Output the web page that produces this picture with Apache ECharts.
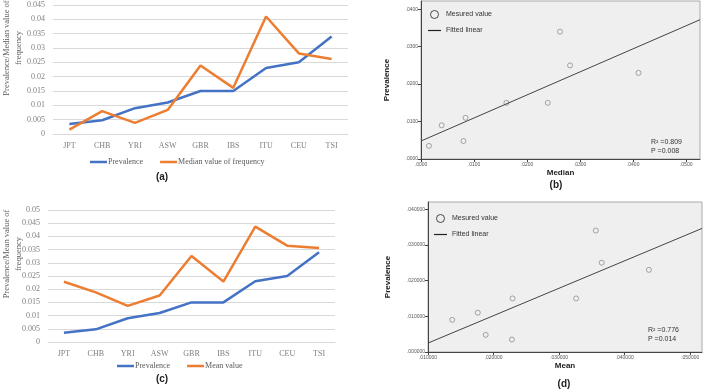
<!DOCTYPE html>
<html>
<head>
<meta charset="utf-8">
<script src="https://cdn.jsdelivr.net/npm/echarts@6/dist/echarts.min.js"></script>
<style>
  html, body { margin: 0; padding: 0; background: #fff; }
  #chart { width: 703px; height: 390px; }
</style>
</head>
<body>
<div id="chart"></div>
<script>
// populations and values
const categories = ['JPT', 'CHB', 'YRI', 'ASW', 'GBR', 'IBS', 'ITU', 'CEU', 'TSI']
const prevalence = [0.0035, 0.0048, 0.009, 0.011, 0.015, 0.015, 0.023, 0.025, 0.034]
const medianFreq = [0.0015, 0.008, 0.0039, 0.0084, 0.0239, 0.0161, 0.041, 0.0281, 0.0262]
const meanFreq = [0.0228, 0.0188, 0.0137, 0.0176, 0.0326, 0.0229, 0.0437, 0.0365, 0.0356]

// fitted line end points as drawn in (b) and (d)
const fitMedian = [[0, 0.0048], [0.0526, 0.0372]]
const fitMean = [[0.01, 0.0025], [0.0518, 0.0346]]

const statsMedian = ['R² =0.809', 'P =0.008']
const statsMean = ['R² =0.776', 'P =0.014']

const BLUE = '#4472C4'
const ORANGE = '#ED7D31'
const PLOT_BG = '#efefef'
const serif = '"Liberation Serif", "DejaVu Serif", serif'
const sans = '"Liberation Sans", Arial, sans-serif'
const BAR_ICON = 'path://M0,0H17V2.5H0Z'
const THIN_ICON = 'path://M0,0H13V1.2H0Z'

const chart = echarts.init(document.getElementById('chart'), null, { renderer: 'canvas' })

const lineYAxis = (gridIndex, max) => ({
    type: 'value',
    gridIndex,
    min: 0,
    max,
    interval: 0.005,
    axisLine: { show: false },
    axisTick: { show: false },
    splitLine: { lineStyle: { color: '#d9d9d9', width: 1 } },
    axisLabel: {
        color: '#808080',
        fontFamily: serif,
        fontSize: 8,
        margin: 8,
        formatter: v => String(+v.toFixed(3)),
    },
})

const lineXAxis = (gridIndex) => ({
    type: 'category',
    gridIndex,
    data: categories,
    axisLine: { lineStyle: { color: '#d9d9d9' } },
    axisTick: { show: false },
    axisLabel: { color: '#808080', fontFamily: serif, fontSize: 8, margin: 8 },
})

const scatterAxisLabel = (digits) => ({
    color: '#555',
    fontFamily: sans,
    fontSize: 5,
    margin: 3,
    showMaxLabel: false,
    formatter: v => v.toFixed(digits).replace(/^0/, ''),
})

const scatterXAxis = (gridIndex, min, max, name, digits) => ({
    type: 'value',
    gridIndex,
    min,
    max,
    interval: 0.01,
    name,
    nameLocation: 'middle',
    nameGap: 10,
    nameTextStyle: { fontFamily: sans, fontSize: 8, fontWeight: 'bold', color: '#222' },
    axisLine: { lineStyle: { color: '#444', width: 1 } },
    axisTick: { length: 3, lineStyle: { color: '#444' } },
    splitLine: { show: false },
    axisLabel: scatterAxisLabel(digits),
})

const scatterYAxis = (gridIndex, max, digits, gap) => ({
    type: 'value',
    gridIndex,
    min: 0,
    max,
    interval: 0.01,
    name: 'Prevalence',
    nameLocation: 'middle',
    nameRotate: 90,
    nameGap: gap,
    nameTextStyle: { fontFamily: sans, fontSize: 8, fontWeight: 'bold', color: '#222' },
    axisLine: { lineStyle: { color: '#444', width: 1 } },
    axisTick: { length: 3, lineStyle: { color: '#444' } },
    splitLine: { show: false },
    axisLabel: scatterAxisLabel(digits),
})

const lineSeries = (name, data, idx, color) => ({
    type: 'line',
    name,
    xAxisIndex: idx,
    yAxisIndex: idx,
    data,
    symbol: 'none',
    lineStyle: { color, width: 2.5 },
    itemStyle: { color },
})

// hollow markers: filled with the plot background, thin grey ring
const scatterSeries = (xs, idx) => ({
    type: 'scatter',
    name: 'Mesured value',
    xAxisIndex: idx,
    yAxisIndex: idx,
    symbol: 'circle',
    symbolSize: 5,
    itemStyle: { color: PLOT_BG, borderColor: '#666', borderWidth: 0.7 },
    data: xs.map((x, i) => [x, prevalence[i]]),
})

const fitSeries = (data, idx) => ({
    type: 'line',
    name: 'Fitted linear',
    xAxisIndex: idx,
    yAxisIndex: idx,
    symbol: 'none',
    lineStyle: { color: '#444', width: 1 },
    itemStyle: { color: '#444' },
    data,
})

const lineLegend = (left, top, names) => ({
    left,
    top,
    padding: 0,
    icon: BAR_ICON,
    itemWidth: 17,
    itemHeight: 8,
    itemGap: 17,
    textStyle: { fontFamily: serif, fontSize: 8, color: '#595959', padding: [0, 0, 0, -4] },
    data: names,
})

const scatterLegend = (left, top) => ({
    left,
    top,
    padding: 0,
    orient: 'vertical',
    itemWidth: 13,
    itemHeight: 8,
    itemGap: 8,
    textStyle: { fontFamily: sans, fontSize: 7, color: '#333' },
    data: [
        { name: 'Mesured value', icon: 'circle', itemStyle: { color: PLOT_BG, borderColor: '#222', borderWidth: 1 } },
        { name: 'Fitted linear', icon: THIN_ICON, itemStyle: { color: '#222' } },
    ],
})

const textEl = (text, x, y, font, extra = {}) => ({
    type: 'text',
    x,
    y,
    style: Object.assign({ text, font, fill: '#222', textAlign: 'center', textVerticalAlign: 'middle' }, extra),
})

const option = {
    backgroundColor: '#fff',
    animation: false,
    grid: [
        { left: 53, top: 5, width: 295, height: 129 },
        { left: 421, top: 1, width: 279, height: 158, show: true, backgroundColor: PLOT_BG, borderColor: '#aaa', borderWidth: 1 },
        { left: 48, top: 210, width: 287, height: 132 },
        { left: 428, top: 202, width: 274, height: 150, show: true, backgroundColor: PLOT_BG, borderColor: '#aaa', borderWidth: 1 },
    ],
    xAxis: [
        lineXAxis(0),
        scatterXAxis(1, 0, 0.0526, 'Median', 4),
        lineXAxis(2),
        scatterXAxis(3, 0.01, 0.0518, 'Mean', 6),
    ],
    yAxis: [
        lineYAxis(0, 0.045),
        scatterYAxis(1, 0.0422, 4, 30),
        lineYAxis(2, 0.05),
        scatterYAxis(3, 0.042, 6, 36),
    ],
    legend: [
        lineLegend(90, 158, ['Prevalence', 'Median value of frequency']),
        scatterLegend(428, 10),
        lineLegend(117, 362, ['Prevalence', 'Mean value']),
        scatterLegend(434, 214),
    ],
    series: [
        lineSeries('Prevalence', prevalence, 0, BLUE),
        lineSeries('Median value of frequency', medianFreq, 0, ORANGE),
        scatterSeries(medianFreq, 1),
        fitSeries(fitMedian, 1),
        lineSeries('Prevalence', prevalence, 2, BLUE),
        lineSeries('Mean value', meanFreq, 2, ORANGE),
        scatterSeries(meanFreq, 3),
        fitSeries(fitMean, 3),
    ],
    graphic: [
        textEl('Prevalence/Median value of\nfrequency', 13, 48, '8.5px ' + serif, { fill: '#595959', lineHeight: 12 }),
        textEl('Prevalence/Mean value of\nfrequency', 13, 254, '8.5px ' + serif, { fill: '#595959', lineHeight: 12 }),
        textEl('(a)', 162, 177, 'bold 10px ' + sans),
        textEl('(b)', 556, 185, 'bold 10px ' + sans),
        textEl('(c)', 162, 379, 'bold 10px ' + sans),
        textEl('(d)', 564, 384, 'bold 10px ' + sans),
        textEl(statsMedian.join('\n'), 651, 147, '7px ' + sans, { textAlign: 'left', fill: '#333', lineHeight: 9 }),
        textEl(statsMean.join('\n'), 648, 335, '7px ' + sans, { textAlign: 'left', fill: '#333', lineHeight: 9 }),
    ],
}
// rotate the two y-axis titles of the line panels
option.graphic[0].rotation = Math.PI / 2
option.graphic[1].rotation = Math.PI / 2

chart.setOption(option)
</script>
</body>
</html>
